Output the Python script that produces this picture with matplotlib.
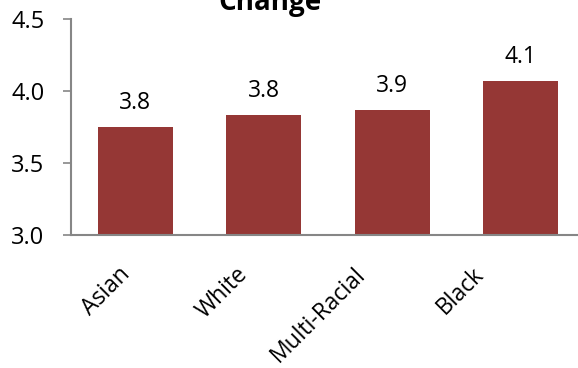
import numpy as np
import matplotlib.pyplot as plt
import matplotlib.transforms as mtransforms

# 各组数据
groups = ["Asian", "White", "Multi-Racial", "Black"]
values = [3.75, 3.83, 3.87, 4.07]
labels = ["3.8", "3.8", "3.9", "4.1"]

plt.rcParams['font.family'] = ['Open Sans', 'DejaVu Sans']

fig = plt.figure(figsize=(5.78, 3.68), dpi=100, facecolor="w")
# 坐标区右侧略超出画布
ax = fig.add_axes([71/578, 1-235/368, 514/578, 216/368])

x = np.arange(len(groups))
ax.bar(x, values, width=0.58, color="#953735", zorder=2)
for xi, v, s in zip(x, values, labels):
    ax.text(xi, v + 0.125, s, ha="center", va="baseline", fontsize=16.5, color="black")

ax.set_ylim(3.0, 4.5)
ax.set_xlim(-0.5, len(groups) - 0.5)
ax.set_yticks([3.0, 3.5, 4.0, 4.5])
ax.set_yticklabels(["3.0", "3.5", "4.0", "4.5"], fontsize=17)
ax.set_xticks(x)
ax.set_xticklabels(groups, fontsize=16.5, rotation=45, ha="right", rotation_mode="anchor")
ax.tick_params(axis="x", length=0, pad=20)
ax.tick_params(axis="y", length=6, width=1.2, color="#868686", pad=13)

# 斜排的分类标签逐个左移
for i, lab in enumerate(ax.get_xticklabels()):
    dx = (-17 - 10.7 * i) / 100
    lab.set_transform(lab.get_transform() +
                      mtransforms.ScaledTranslation(dx, 0, fig.dpi_scale_trans))

for side in ["top", "right"]:
    ax.spines[side].set_visible(False)
for side in ["left", "bottom"]:
    ax.spines[side].set_color("#868686")
    ax.spines[side].set_linewidth(1.5)

fig.text(270/578, 1-10/368, "Change", ha="center", va="baseline",
         fontsize=20, fontweight="bold")

plt.savefig("out.png", dpi=100)
